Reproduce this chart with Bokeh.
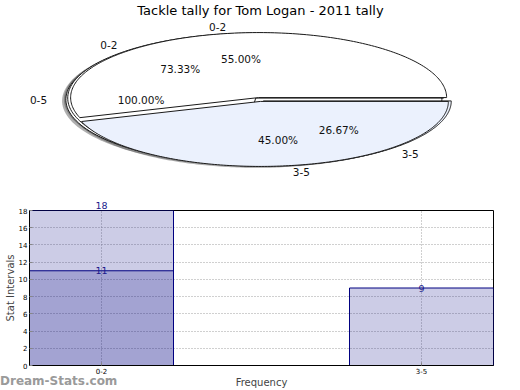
import numpy as np
from bokeh.plotting import figure
from bokeh.models import Range1d, FixedTicker, Label, LinearAxis, Div
from bokeh.layouts import column
from bokeh.core.properties import value
from bokeh.embed import file_html
from bokeh.resources import INLINE

# ---------------- data ----------------
chart_title = "Tackle tally for Tom Logan - 2011 tally"
watermark = "Dream-Stats.com"

pie_a_labels = ["0-2", "3-5"]
pie_a_values = [11, 9]
pie_b_labels = ["0-2", "3-5"]
pie_b_values = [11, 4]
pie_c_labels = ["0-5"]
pie_c_values = [15]

bar_categories = ["0-2", "3-5"]
bar_totals = [18, 9]
bar_part_categories = ["0-2"]
bar_part_values = [11]
y_tick_values = [0, 2, 4, 6, 8, 10, 12, 14, 16, 18]

# ---------------- style / layout ----------------
FONT = "DejaVu Sans"
PIE_COLORS = ["#ffffff", "#ebf1fd"]
CX, CY, RX, RY = 259.0, 99.0, 188.0, 65.0
EXPLODE = 0.03
SH_DX, SH_DY = -3.8, 1.4
FRAME_L, FRAME_R = 29, 493      # bar frame (pie frame is aligned to it)
W = 520
H_PIE, H_BAR = 190, 200
Y_MAX = y_tick_values[-1]
LABEL_COLOR = "#1a1a8c"

pie = figure(width=W, height=H_PIE, x_range=Range1d(FRAME_L, FRAME_R), y_range=Range1d(H_PIE, 0),
             output_backend="svg", toolbar_location=None, x_axis_type=None, y_axis_type=None,
             min_border=0, min_border_left=FRAME_L, min_border_right=W - FRAME_R,
             outline_line_color=None)
pie.xgrid.visible = False
pie.ygrid.visible = False


def pie_geometry(values, labels):
    total = float(sum(values))
    start = 0.0
    out = []
    for i, (v, lab) in enumerate(zip(values, labels)):
        frac = v / total
        t1, t2 = start * 360.0, (start + frac) * 360.0
        mid = np.radians((t1 + t2) / 2.0)
        cx = CX + EXPLODE * RX * np.cos(mid)
        cy = CY - EXPLODE * RY * np.sin(mid)
        ts = np.radians(np.linspace(t1, t2, 180))
        xs = list(cx + RX * np.cos(ts))
        ys = list(cy - RY * np.sin(ts))
        if frac < 0.999999:
            xs = [cx] + xs + [cx]
            ys = [cy] + ys + [cy]
        out.append(dict(
            xs=xs, ys=ys, color=PIE_COLORS[i % len(PIE_COLORS)],
            pct="%.2f%%" % (100.0 * frac),
            px=cx + 0.6 * RX * np.cos(mid), py=cy - 0.6 * RY * np.sin(mid),
            label=lab,
            lx=cx + 1.1 * RX * np.cos(mid), ly=cy - 1.1 * RY * np.sin(mid),
            align="left" if np.cos(mid) > 1e-9 else "right",
        ))
        start += frac
    return out


pies = [pie_geometry(pie_c_values, pie_c_labels),
        pie_geometry(pie_b_values, pie_b_labels),
        pie_geometry(pie_a_values, pie_a_labels)]
all_wedges = [w for pw in pies for w in pw]

# shadows
pie.patches(xs=[[x + SH_DX for x in w["xs"]] for w in all_wedges],
            ys=[[y + SH_DY for y in w["ys"]] for w in all_wedges],
            fill_color="#4d4d4d", fill_alpha=0.45, line_color=None)
# wedges (back to front)
for pw in pies:
    pie.patches(xs=[w["xs"] for w in pw], ys=[w["ys"] for w in pw],
                fill_color=[w["color"] for w in pw], line_color="#1a1a1a", line_width=1)

# labels
for pw in pies:
    pie.text(x=[w["px"] for w in pw], y=[w["py"] for w in pw], text=[w["pct"] for w in pw],
             text_align="center", text_baseline="middle", text_font=value(FONT),
             text_font_size="10.5px", text_color="#111111")
    for w in pw:
        pie.text(x=[w["lx"]], y=[w["ly"]], text=[w["label"]], text_align=w["align"],
                 text_baseline="middle", text_font=value(FONT), text_font_size="10.5px",
                 text_color="#111111")

pie.text(x=[260], y=[10], text=[chart_title], text_align="center", text_baseline="middle",
         text_font=value(FONT), text_font_size="13px", text_color="#000000")

# ---------------- bar chart ----------------
bar = figure(width=W, height=H_BAR, x_range=Range1d(-0.225, 1.225), y_range=Range1d(0, Y_MAX),
             output_backend="svg", toolbar_location=None,
             min_border_top=20, min_border_right=W - FRAME_R, min_border_left=FRAME_L,
             min_border_bottom=0,
             outline_line_color="#000000", outline_line_width=1)

xpos_tot = [bar_categories.index(c) for c in bar_categories]
xpos_part = [bar_categories.index(c) for c in bar_part_categories]
bar.vbar(x=xpos_tot, top=bar_totals, width=0.45, fill_color="navy", fill_alpha=0.2,
         line_color="navy", line_width=1)
bar.vbar(x=xpos_part, top=bar_part_values, width=0.45, fill_color="navy", fill_alpha=0.2,
         line_color="navy", line_width=1)

x_axis = bar.below[0]
y_axis = bar.left[0]
x_axis.ticker = FixedTicker(ticks=list(range(len(bar_categories))))
x_axis.major_label_overrides = {i: c for i, c in enumerate(bar_categories)}
y_axis.ticker = FixedTicker(ticks=y_tick_values)
for ax in (x_axis, y_axis):
    ax.major_tick_in = 3
    ax.major_tick_out = 0
    ax.minor_tick_line_color = None
    ax.major_label_text_font = FONT
    ax.major_label_text_font_size = "7px"
    ax.major_label_text_color = "#000000"
    ax.major_label_standoff = 2
    ax.axis_label_text_font = FONT
    ax.axis_label_text_font_size = "10px"
    ax.axis_label_text_font_style = "normal"
    ax.axis_label_standoff = 0
    ax.axis_line_color = "#000000"
    ax.major_tick_line_color = "#888888"
x_axis.axis_label = "Frequency"
y_axis.axis_label = "Stat Intervals"

bar.xgrid.grid_line_dash = "1 2"
bar.ygrid.grid_line_dash = "1 2"
bar.xgrid.grid_line_color = "#a0a0a0"
bar.ygrid.grid_line_color = "#a0a0a0"

# value labels: inside the frame as Labels, those at the frame top via an "above" axis
top_labels = {}
for xv, yv in zip(xpos_tot + xpos_part, bar_totals + bar_part_values):
    if yv >= Y_MAX:
        top_labels[xv] = str(yv)
    else:
        bar.add_layout(Label(x=xv, y=yv, text=str(yv), text_align="center",
                             text_baseline="alphabetic", text_font=FONT,
                             text_font_size="9.5px", text_color=LABEL_COLOR))
if top_labels:
    top_axis = LinearAxis(ticker=FixedTicker(ticks=sorted(top_labels)),
                          major_label_overrides=top_labels,
                          axis_line_color=None, major_tick_line_color=None,
                          minor_tick_line_color=None, major_label_standoff=-4,
                          major_label_text_font=FONT, major_label_text_font_size="9.5px",
                          major_label_text_color=LABEL_COLOR)
    bar.add_layout(top_axis, "above")

mark = Div(text=watermark, width=120, height=14, margin=(-16, 0, 0, 0),
           styles={"color": "#9a9a9a", "font-family": "DejaVu Sans", "font-size": "12px",
                   "font-weight": "bold", "line-height": "14px", "white-space": "nowrap"})

layout = column(pie, bar, mark, spacing=0)
open("out.html", "w").write(file_html(layout, INLINE))
